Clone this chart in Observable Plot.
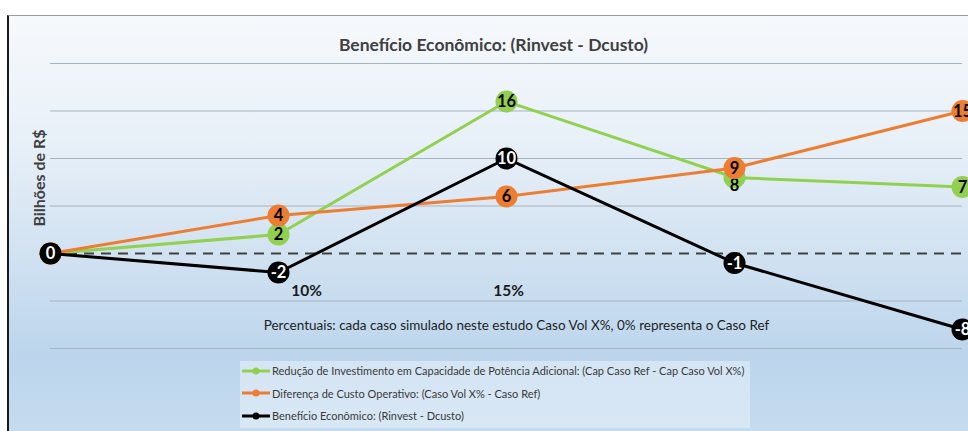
<!DOCTYPE html>
<html>
<head>
<meta charset="utf-8">
<script src="https://cdn.jsdelivr.net/npm/d3@7"></script>
<script src="https://cdn.jsdelivr.net/npm/@observablehq/plot@0.6"></script>
<style>
  html, body { margin: 0; padding: 0; background: #fff; }
  #wrap { position: relative; width: 968px; height: 431px; overflow: hidden; background: #fff; font-family: Lato, "Open Sans", sans-serif; }
  #bg { position: absolute; left: 7px; top: 15px; right: 0; bottom: 0;
        border-left: 2px solid #1a1a1a; border-top: 1px solid #9a9a9a;
        background: linear-gradient(to bottom, #f6f9fc 0%, #e8f0f8 30%, #d3e3f2 55%, #bcd5ec 82%, #c5dbef 100%); }
  #chart { position: absolute; left: 0; top: 0; }
  #legend { position: absolute; left: 240px; top: 361px; width: 510px; height: 67px;
            background: rgba(236, 243, 250, 0.5); }
  .row { position: absolute; left: 2px; display: flex; align-items: center; font-size: 11px; color: #3a3a3a; white-space: nowrap; }
  .row svg { margin-right: 2px; }
</style>
</head>
<body>
<div id="wrap">
  <div id="bg"></div>
  <div id="chart"></div>
  <div id="legend"></div>
</div>
<script>
const categories = ["0%", "10%", "15%", "20%", "25%"];
const shownTickLabels = ["10%", "15%"];
const seriesNames = [
  "Redução de Investimento em Capacidade de Potência Adicional: (Cap Caso Ref - Cap Caso Vol X%)",
  "Diferença de Custo Operativo: (Caso Vol X% - Caso Ref)",
  "Benefício Econômico: (Rinvest - Dcusto)"
];
const reducaoInvest = [0, 2, 16, 8, 7];
const difCusto = [0, 4, 6, 9, 15];
const beneficio = [0, -2, 10, -1, -8];
const seriesColors = ["#92d050", "#ed7d31", "#000000"];
const labelColors = ["#000000", "#000000", "#ffffff"];
const gridValues = [-10, -5, 5, 10, 15, 20];
const title = "Benefício Econômico: (Rinvest - Dcusto)";
const yLabel = "Bilhões de R$";
const note = "Percentuais: cada caso simulado neste estudo Caso Vol X%, 0% representa o Caso Ref";

const allValues = [reducaoInvest, difCusto, beneficio];
const rows = (vals, s) => vals.map((v, i) => ({cat: categories[i], value: v, s}));

const font = "Lato, 'Open Sans', sans-serif";
const marks = [
  Plot.ruleY(gridValues, {stroke: "#a7b3bf", strokeWidth: 1}),
  Plot.ruleY([0], {stroke: "#404040", strokeWidth: 2, strokeDasharray: "10,7"})
];
allValues.forEach((vals, s) => {
  const d = rows(vals, s);
  marks.push(Plot.line(d, {x: "cat", y: "value", stroke: seriesColors[s], strokeWidth: 3}));
  marks.push(Plot.dot(d, {x: "cat", y: "value", r: 11, fill: seriesColors[s], stroke: "none"}));
  // green label at the 4th point sits below its marker (it is covered by the orange one)
  const main = s === 0 ? d.filter((e, i) => i !== 3) : d;
  marks.push(Plot.text(main, {x: "cat", y: "value", text: e => String(e.value), fill: labelColors[s],
    fontWeight: "bold", fontSize: 16.5, fontFamily: font, dy: 0.5}));
  if (s === 0) {
    marks.push(Plot.text(d.filter((e, i) => i === 3), {x: "cat", y: "value", text: e => String(e.value),
      fill: labelColors[s], fontWeight: "bold", fontSize: 16.5, fontFamily: font, dy: 8}));
  }
});
marks.push(Plot.text([shownTickLabels[0]], {x: () => shownTickLabels[0], frameAnchor: "bottom", dy: -53, dx: 28,
  fontWeight: "bold", fontSize: 15.5, fill: "#1a1a1a", fontFamily: font}));
marks.push(Plot.text([shownTickLabels[1]], {x: () => shownTickLabels[1], frameAnchor: "bottom", dy: -53, dx: 2,
  fontWeight: "bold", fontSize: 15.5, fill: "#1a1a1a", fontFamily: font}));
marks.push(Plot.text([title], {frameAnchor: "top", dy: -25, dx: -13, fontWeight: "bold", fontSize: 17.5, fill: "#404040", fontFamily: font}));
marks.push(Plot.text([yLabel], {frameAnchor: "left", textAnchor: "middle", rotate: -90, dx: -11, dy: -28, fontWeight: "bold", fontSize: 16, fill: "#404040", fontFamily: font}));
marks.push(Plot.text([note], {frameAnchor: "bottom", dy: -19, dx: 10, fontSize: 13.5, fill: "#1e1e1e", fontFamily: font}));

const chart = Plot.plot({
  width: 968,
  height: 431,
  marginLeft: 50,
  marginRight: 6,
  marginTop: 63,
  marginBottom: 83,
  style: {background: "transparent", overflow: "visible"},
  x: {type: "point", domain: categories, padding: 0, axis: null},
  y: {domain: [-10, 20], axis: null},
  marks
});
document.getElementById("chart").appendChild(chart);

const legend = document.getElementById("legend");
seriesNames.forEach((name, s) => {
  const row = document.createElement("div");
  row.className = "row";
  row.style.top = (3 + s * 22.5) + "px";
  row.innerHTML = `<svg width="28" height="10"><line x1="0" x2="28" y1="5" y2="5" stroke="${seriesColors[s]}" stroke-width="3"/><circle cx="14" cy="5" r="3.5" fill="${seriesColors[s]}"/></svg><span>${name}</span>`;
  legend.appendChild(row);
});
</script>
</body>
</html>
